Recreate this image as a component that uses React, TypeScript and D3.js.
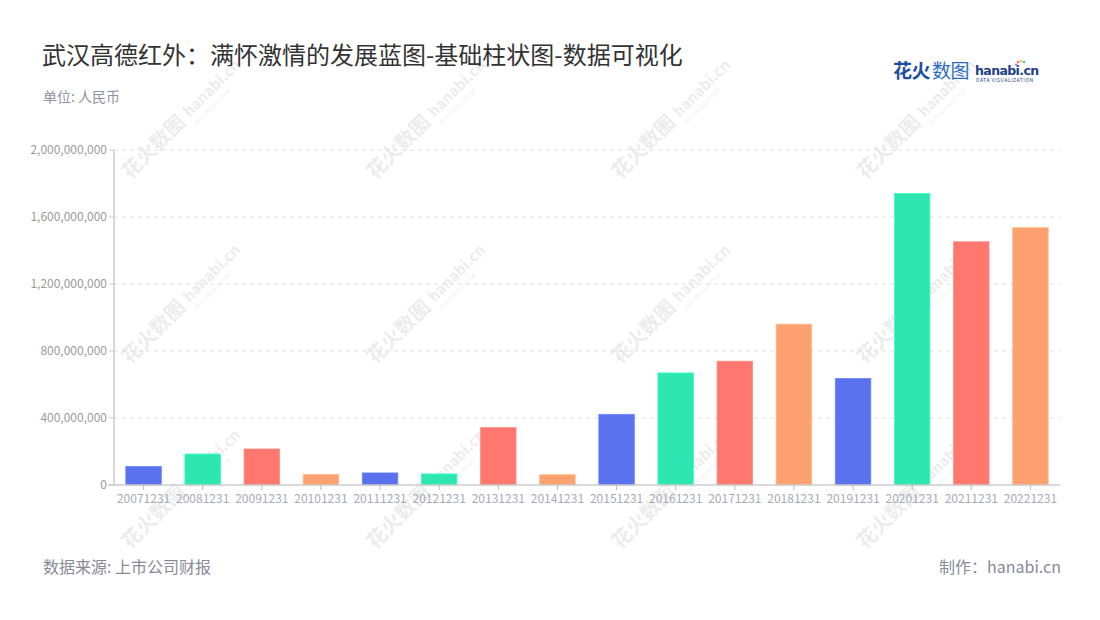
import React from "react";
import * as d3 from "d3";

const categories = ["20071231","20081231","20091231","20101231","20111231","20121231","20131231","20141231","20151231","20161231","20171231","20181231","20191231","20201231","20211231","20221231"];
const values = [110e6,185e6,215e6,62e6,72e6,66e6,343e6,61e6,422e6,669e6,739e6,960e6,636e6,1741e6,1452e6,1536e6];
const palette = ["#5a72ee","#2ee6b0","#ff7870","#ffa070"];
const yTicks = [0,400e6,800e6,1200e6,1600e6,2000e6];

const W = 1100, H = 620;
const M = { left: 114, right: 1060, top: 150, bottom: 485 };
const FONT = "'Noto Sans CJK SC', 'Noto Sans', sans-serif";

function Watermark({ x, y }: { x: number; y: number }) {
  return (
    <g transform={`translate(${x},${y}) rotate(-45)`} opacity={0.07} fontFamily={FONT}>
      <text x={0} y={0} fontSize={20} fontWeight={700} fill="#000">花火数图</text>
      <text x={86} y={-2} fontSize={15} fontWeight={700} fill="#000">hanabi.cn</text>
      <text x={86} y={8} fontSize={5} fill="#000">DATA VISUALIZATION</text>
    </g>
  );
}

export default function App() {
  const x = d3.scaleBand<string>().domain(categories).range([M.left, M.right]).paddingInner(0.4).paddingOuter(0.2);
  const y = d3.scaleLinear().domain([0, 2000e6]).range([M.bottom, M.top]);
  const fmt = d3.format(",");
  const wmCols = [130, 375, 620, 865];
  const wmRows = [180, 365, 550];
  return (
    <svg width={W} height={H} style={{ display: "block", position: "absolute", left: 0, top: 0 }} fontFamily={FONT}>
      <rect width={W} height={H} fill="#fff" />
      {wmRows.map((ry) => wmCols.map((cx) => <Watermark key={`${cx}-${ry}`} x={cx} y={ry} />))}
      <text x={42} y={64} fontSize={24} fill="#333">武汉高德红外：满怀激情的发展蓝图-基础柱状图-数据可视化</text>
      <text x={43} y={102} fontSize={14} fill="#8f92a1">单位: 人民币</text>
      {/* logo */}
      <g>
        <text x={893} y={78} fontSize={19} fontWeight={700} fill="#1d4f9f" letterSpacing={-0.5}>花火</text>
        <text x={932} y={78} fontSize={19} fill="#2c6bc4" letterSpacing={-0.5}>数图</text>
        <text x={975} y={75} fontSize={12.5} fontWeight={700} fill="#1d3f86" fontFamily="'DejaVu Sans', sans-serif" letterSpacing={-0.6}>hanabi.cn</text>
        <text x={976} y={82} fontSize={5} fill="#1d3f86" letterSpacing={0.5}>DATA VISUALIZATION</text>
        <circle cx={1018} cy={62} r={1.3} fill="#ff6b6b" />
        <circle cx={1021} cy={61} r={1.3} fill="#ffb84d" />
        <circle cx={1024} cy={62} r={1.3} fill="#3dd6a0" />
        <circle cx={1016} cy={64.5} r={1.1} fill="#6a7cf0" />
      </g>
      {/* grid */}
      {yTicks.filter((t) => t > 0).map((t) => (
        <line key={t} x1={M.left} x2={M.right} y1={y(t)} y2={y(t)} stroke="#e0e0e0" strokeDasharray="4 4" strokeWidth={1} />
      ))}
      {/* y axis */}
      <line x1={M.left} x2={M.left} y1={M.top} y2={M.bottom} stroke="#ccc" strokeWidth={1.5} />
      {yTicks.map((t) => (
        <g key={t}>
          <line x1={M.left - 5} x2={M.left} y1={y(t)} y2={y(t)} stroke="#ccc" />
          <text x={M.left - 7} y={y(t)} dy="0.35em" textAnchor="end" fontSize={12} fill="#9a9a9a">{fmt(t)}</text>
        </g>
      ))}
      {/* bars */}
      {categories.map((c, i) => (
        <rect key={c} x={x(c)} y={y(values[i])} width={x.bandwidth()} height={y(0) - y(values[i])}
          fill={palette[i % 4]} stroke={d3.color(palette[i % 4])!.brighter(0.4).toString()} strokeWidth={0.8} />
      ))}
      {/* x axis */}
      <line x1={M.left - 6} x2={M.right} y1={M.bottom} y2={M.bottom} stroke="#ccc" strokeWidth={1.5} />
      {categories.map((c) => {
        const cx = (x(c) as number) + x.bandwidth() / 2;
        return (
          <g key={c}>
            <line x1={cx} x2={cx} y1={M.bottom} y2={M.bottom + 5} stroke="#bbb" />
            <text x={cx} y={503} textAnchor="middle" fontSize={12} fill="#a6aab6">{c}</text>
          </g>
        );
      })}
      <text x={43} y={573} fontSize={16} fill="#888a98">数据来源: 上市公司财报</text>
      <text x={1061} y={573} fontSize={16} fill="#888a98" textAnchor="end">制作：hanabi.cn</text>
    </svg>
  );
}
